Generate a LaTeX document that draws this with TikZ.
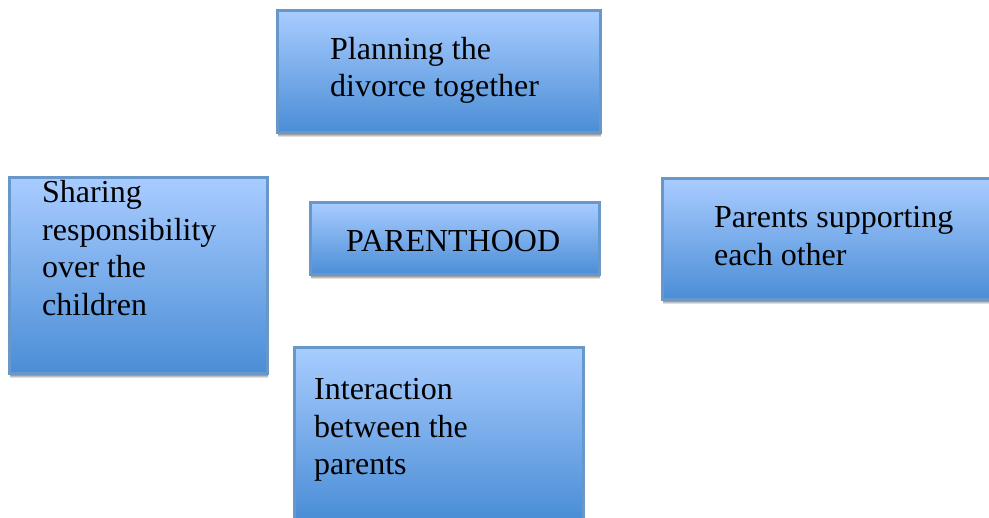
\documentclass[tikz,border=0pt]{standalone}
\usepackage{fontspec}
\setmainfont{Liberation Serif}
\definecolor{boxtop}{HTML}{A8CCFF}
\definecolor{boxbot}{HTML}{4A8DD6}
\definecolor{boxline}{HTML}{6898CA}
\definecolor{shade}{HTML}{D6D6D6}
\tikzset{
  card/.style={draw=boxline, line width=3pt, top color=boxtop, bottom color=boxbot, rectangle, inner sep=0pt},
  lbl/.style={anchor=base west, align=left, inner sep=0pt, font=\fontsize{32}{37.5}\selectfont},
}
\newcommand{\mycard}[5]{% name, x0,y0,x1,y1
  \fill[shade] (#2+1,#5) rectangle (#4+1,#5+4);
  \path[card] (#2,#3) rectangle (#4,#5) coordinate (#1);
}
\begin{document}
\begin{tikzpicture}[x=1pt,y=-1pt]
\useasboundingbox (0,0) rectangle (989,518);
\mycard{topbox}{277}{11}{600}{133}
\mycard{leftbox}{9}{178}{267}{374}
\mycard{centerbox}{310}{203}{599}{275}
\mycard{rightbox}{662}{179}{995}{300}
\mycard{bottombox}{294}{348}{583}{520}
\node[lbl] (toptext) at (330,97) {Planning the\\divorce together};
\node[lbl] (lefttext) at (42,315.5) {Sharing\\responsibility\\over the\\children};
\node[lbl] (centertext) at (346,252) {PARENTHOOD};
\node[lbl] (righttext) at (714,265.5) {Parents supporting\\each other};
\node[lbl] (bottomtext) at (314,475) {Interaction\\between the\\parents};
\end{tikzpicture}
\end{document}
